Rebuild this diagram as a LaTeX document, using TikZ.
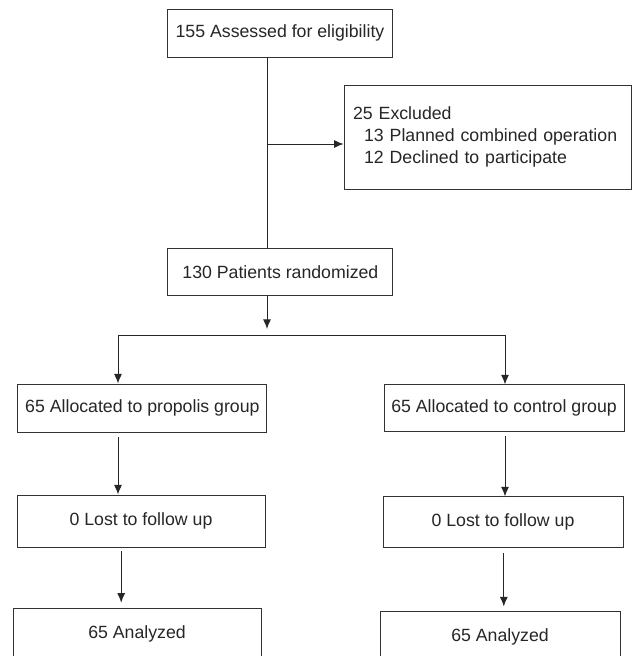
\documentclass[tikz,border=0pt]{standalone}
\usepackage{fontspec}
\setmainfont{Liberation Sans}
\usepackage{tikz}
\usetikzlibrary{arrows.meta,positioning}

\begin{document}
\begin{tikzpicture}[>={Latex[length=0.24cm,width=0.2cm]},scale=1]
\tikzstyle{stage}=[draw=black!80, line width=0.7pt, rectangle, inner sep=0pt,
minimum height=1.2cm, text=black!85, font=\fontsize{12.6}{15.6}\selectfont]
\tikzstyle{flow}=[line width=0.7pt, draw=black!85]

\clip (0,0) rectangle (15.825,-16.4);

% enrollment
\node[stage, minimum width=5.625cm] (assess) at (7.0,-0.825) {155 Assessed for eligibility};
\node[stage, minimum height=2.6cm, text width=6.725cm, inner sep=0.225cm, align=left]
  (excl) at (12.19,-3.425)
  {25 Excluded\\\hspace*{0.275cm}13 Planned combined operation\\\hspace*{0.275cm}12 Declined to participate};
\node[stage, minimum width=5.625cm, minimum height=1.175cm] (rand) at (7.01,-6.81) {130 Patients randomized};

\coordinate (trunk) at (6.675,-3.6);
\coordinate (splittip) at (6.675,-8.225);
\coordinate (split) at (6.675,-8.375);

\draw[flow] (assess.south -| trunk) -- (rand.north -| trunk);
\draw[flow,->] (trunk) -- (trunk -| excl.west);
\draw[flow,->] (rand.south -| trunk) -- (splittip);

% propolis arm
\node[stage, minimum width=6.225cm] (allocP) at (3.56,-10.2) {65 Allocated to propolis group};
\node[stage, minimum width=6.2cm, minimum height=1.3cm] (lostP) at (3.525,-13.025) {0 Lost to follow up};
\node[stage, minimum width=6.2cm, minimum height=1.3cm] (analP) at (3.425,-15.85) {65 Analyzed};

% control arm
\node[stage, minimum width=6.0cm, minimum height=1.175cm] (allocC) at (12.6,-10.21) {65 Allocated to control group};
\node[stage, minimum width=6.0cm, minimum height=1.275cm] (lostC) at (12.575,-13.06) {0 Lost to follow up};
\node[stage, minimum width=6.0cm, minimum height=1.3cm] (analC) at (12.5,-15.925) {65 Analyzed};

\coordinate (colP) at (2.95,-8.375);
\coordinate (colC) at (12.625,-8.375);

\draw[flow] (colP) -- (colC);
\draw[flow,->] (colP) -- (colP |- allocP.north);
\draw[flow,->] (colC) -- (colC |- allocC.north);

\draw[flow,->,shorten <=0.125cm] (allocP.south -| colP) -- (lostP.north -| colP);
\draw[flow,->,shorten <=0.1cm] (allocC.south -| colC) -- (lostC.north -| colC);
\draw[flow,->,shorten <=0.1cm,shorten >=0.12cm] ([xshift=0.08cm]lostP.south -| colP) -- ([xshift=0.08cm]analP.north -| colP);
\draw[flow,->,shorten <=0.12cm,shorten >=0.1cm] ([xshift=-0.03cm]lostC.south -| colC) -- ([xshift=-0.03cm]analC.north -| colC);

\end{tikzpicture}
\end{document}
